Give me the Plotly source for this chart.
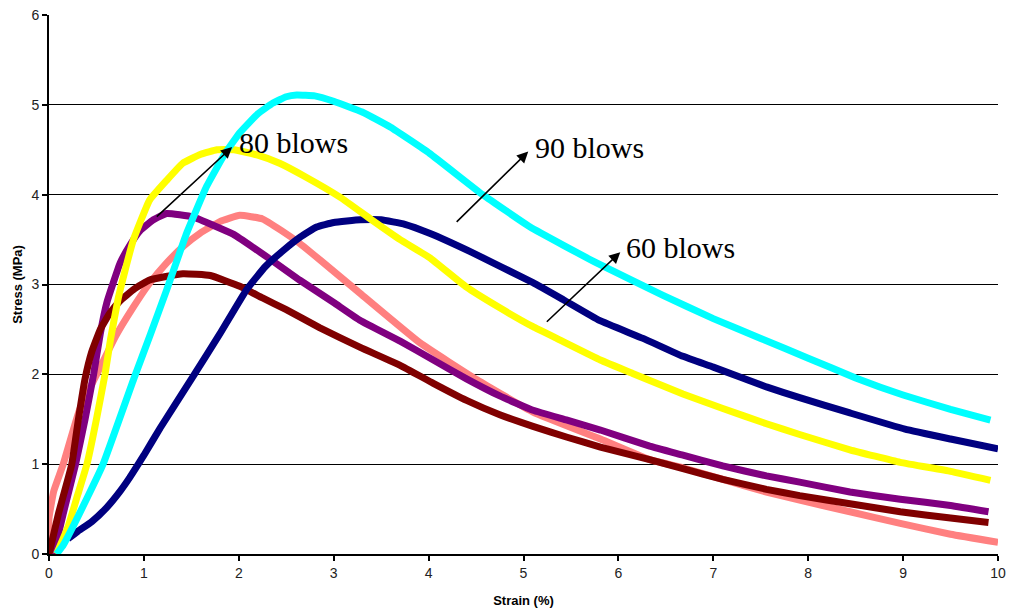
import plotly.graph_objects as go

# ---- data (strain %, stress MPa) ----
pink_x = [0.0, 0.0, 0.05, 0.15, 0.32, 0.54, 0.7, 0.89, 1.05, 1.24, 1.42, 1.59, 1.8, 2.01, 2.25, 2.45, 2.64, 2.86,
          3.28, 3.91, 4.51, 5.1, 5.81, 6.33, 6.68, 7.1, 7.56, 7.91, 8.44, 8.97, 9.5, 10.0]
pink_y = [0.0, 0.4, 0.7, 1.0, 1.6, 2.08, 2.42, 2.75, 3.0, 3.24, 3.43, 3.57, 3.7, 3.77, 3.73, 3.6, 3.46, 3.27,
          2.9, 2.35, 1.94, 1.58, 1.28, 1.05, 0.96, 0.83, 0.69, 0.6, 0.47, 0.34, 0.22, 0.13]

purple_x = [0.05, 0.15, 0.28, 0.38, 0.47, 0.54, 0.61, 0.75, 0.86, 0.96, 1.1, 1.24, 1.52, 1.94, 2.36, 2.64, 3.0, 3.28,
            3.7, 4.05, 4.4, 4.75, 5.1, 5.46, 5.81, 6.33, 6.68, 7.1, 7.56, 7.91, 8.44, 8.97, 9.5, 9.9]
purple_y = [0.0, 0.45, 1.0, 1.5, 2.0, 2.45, 2.8, 3.24, 3.45, 3.6, 3.72, 3.79, 3.75, 3.56, 3.26, 3.05, 2.8, 2.6,
            2.37, 2.16, 1.95, 1.76, 1.6, 1.49, 1.38, 1.2, 1.1, 0.98, 0.87, 0.8, 0.69, 0.61, 0.54, 0.47]

maroon_x = [0.0, 0.1, 0.24, 0.31, 0.38, 0.45, 0.54, 0.64, 0.75, 0.9, 1.06, 1.41, 1.7, 2.01, 2.25, 2.5, 2.85,
            3.28, 3.7, 4.05, 4.4, 4.75, 5.1, 5.46, 5.81, 6.33, 6.68, 7.1, 7.56, 7.91, 8.44, 8.97, 9.5, 9.9]
maroon_y = [0.0, 0.45, 1.0, 1.5, 1.95, 2.25, 2.5, 2.68, 2.82, 2.95, 3.05, 3.12, 3.1, 2.98, 2.85, 2.72, 2.52,
            2.3, 2.1, 1.9, 1.71, 1.55, 1.42, 1.3, 1.19, 1.05, 0.95, 0.83, 0.72, 0.65, 0.56, 0.47, 0.4, 0.35]

navy_x = [0.2, 0.3, 0.45, 0.61, 0.75, 0.85, 1.0, 1.17, 1.52, 1.8, 2.08, 2.28, 2.47, 2.65, 2.82, 3.0, 3.28, 3.5, 3.75,
          4.01, 4.45, 5.1, 5.42, 5.8, 6.26, 6.68, 7.0, 7.56, 7.91, 8.44, 9.02, 9.5, 10.0]
navy_y = [0.17, 0.25, 0.36, 0.52, 0.7, 0.85, 1.1, 1.4, 1.98, 2.45, 2.94, 3.2, 3.38, 3.53, 3.64, 3.69, 3.72, 3.72, 3.67,
          3.57, 3.36, 3.02, 2.83, 2.6, 2.4, 2.2, 2.08, 1.86, 1.74, 1.57, 1.39, 1.28, 1.17]

yellow_x = [0.08, 0.2, 0.3, 0.4, 0.5, 0.59, 0.65, 0.73, 0.8, 0.89, 1.06, 1.24, 1.41, 1.6, 1.77, 1.95, 2.2, 2.43,
            2.7, 3.07, 3.4, 3.7, 4.01, 4.4, 4.75, 5.1, 5.35, 5.81, 6.15, 6.68, 7.1, 7.56, 7.91, 8.44, 8.97, 9.5, 9.92]
yellow_y = [0.0, 0.3, 0.65, 1.0, 1.5, 2.0, 2.4, 2.85, 3.15, 3.5, 3.94, 4.16, 4.35, 4.45, 4.5, 4.5, 4.44, 4.35,
            4.2, 3.97, 3.72, 3.5, 3.3, 2.97, 2.74, 2.53, 2.4, 2.16, 2.01, 1.78, 1.62, 1.45, 1.33, 1.16, 1.02, 0.92, 0.82]

cyan_x = [0.08, 0.15, 0.25, 0.4, 0.57, 0.89, 1.07, 1.24, 1.45, 1.66, 1.85, 2.01, 2.2, 2.36, 2.5, 2.61, 2.8, 3.0, 3.3,
          3.6, 4.01, 4.57, 5.07, 5.77, 6.47, 7.0, 7.5, 8.0, 8.5, 9.0, 9.5, 9.92]
cyan_y = [0.0, 0.1, 0.3, 0.62, 1.0, 1.94, 2.45, 2.94, 3.57, 4.09, 4.45, 4.69, 4.9, 5.02, 5.09, 5.11, 5.1, 5.04, 4.92,
          4.75, 4.46, 4.0, 3.64, 3.24, 2.88, 2.62, 2.4, 2.18, 1.96, 1.77, 1.61, 1.49]

x_ticks = [0, 1, 2, 3, 4, 5, 6, 7, 8, 9, 10]
y_ticks = [0, 1, 2, 3, 4, 5, 6]

labels = ["80 blows", "90 blows", "60 blows"]
arrow_tail_x = [1.12, 4.28, 5.23]
arrow_tail_y = [3.74, 3.68, 2.57]
arrow_head_x = [1.93, 5.05, 6.02]
arrow_head_y = [4.53, 4.48, 3.36]
label_x = [1.98, 5.1, 6.06]
label_y = [4.58, 4.52, 3.41]

series = [
    (pink_x, pink_y, "#FF8080"),
    (purple_x, purple_y, "#800080"),
    (maroon_x, maroon_y, "#800000"),
    (navy_x, navy_y, "#000080"),
    (yellow_x, yellow_y, "#FFFF00"),
    (cyan_x, cyan_y, "#00FFFF"),
]

fig = go.Figure()
for xs, ys, col in series:
    fig.add_trace(go.Scatter(x=xs, y=ys, mode="lines",
                             line=dict(color=col, width=7, shape="spline", smoothing=0.35),
                             showlegend=False, hoverinfo="skip"))

for i in range(len(labels)):
    fig.add_annotation(x=arrow_head_x[i], y=arrow_head_y[i], ax=arrow_tail_x[i], ay=arrow_tail_y[i],
                       xref="x", yref="y", axref="x", ayref="y", text="", showarrow=True,
                       arrowhead=2, arrowsize=1.4, arrowwidth=1.6, arrowcolor="black", standoff=0)
    fig.add_annotation(x=label_x[i], y=label_y[i], xref="x", yref="y", text=labels[i], showarrow=False,
                       xanchor="left", yanchor="middle",
                       font=dict(family="Liberation Serif, Times New Roman, serif", size=30, color="black"))

axis_font = dict(family="Liberation Sans, Arial, sans-serif", size=14, color="#222")
title_font = dict(family="Liberation Sans, Arial, sans-serif", size=13, color="black")
fig.update_xaxes(range=[0, 10], tickvals=x_ticks, ticks="outside", ticklen=5, tickwidth=2, tickcolor="black",
                 showline=True, linewidth=2, linecolor="black", showgrid=False, zeroline=False,
                 tickfont=axis_font, automargin=False,
                 title=dict(text="<b>Strain (%)</b>", font=title_font, standoff=16))
fig.update_yaxes(range=[0, 6], tickvals=y_ticks, ticks="outside", ticklen=5, tickwidth=2, tickcolor="black",
                 showline=True, linewidth=2, linecolor="black", showgrid=True, gridcolor="black", gridwidth=1,
                 zeroline=False, tickfont=axis_font, automargin=False,
                 title=dict(text="<b>Stress (MPa)</b>", font=title_font, standoff=6))
fig.update_layout(width=1013, height=614, margin=dict(l=49, r=15, t=15, b=60),
                  plot_bgcolor="white", paper_bgcolor="white")

fig.write_html("out.html", config={"displayModeBar": False},
               post_script="document.body.style.margin='0';")
